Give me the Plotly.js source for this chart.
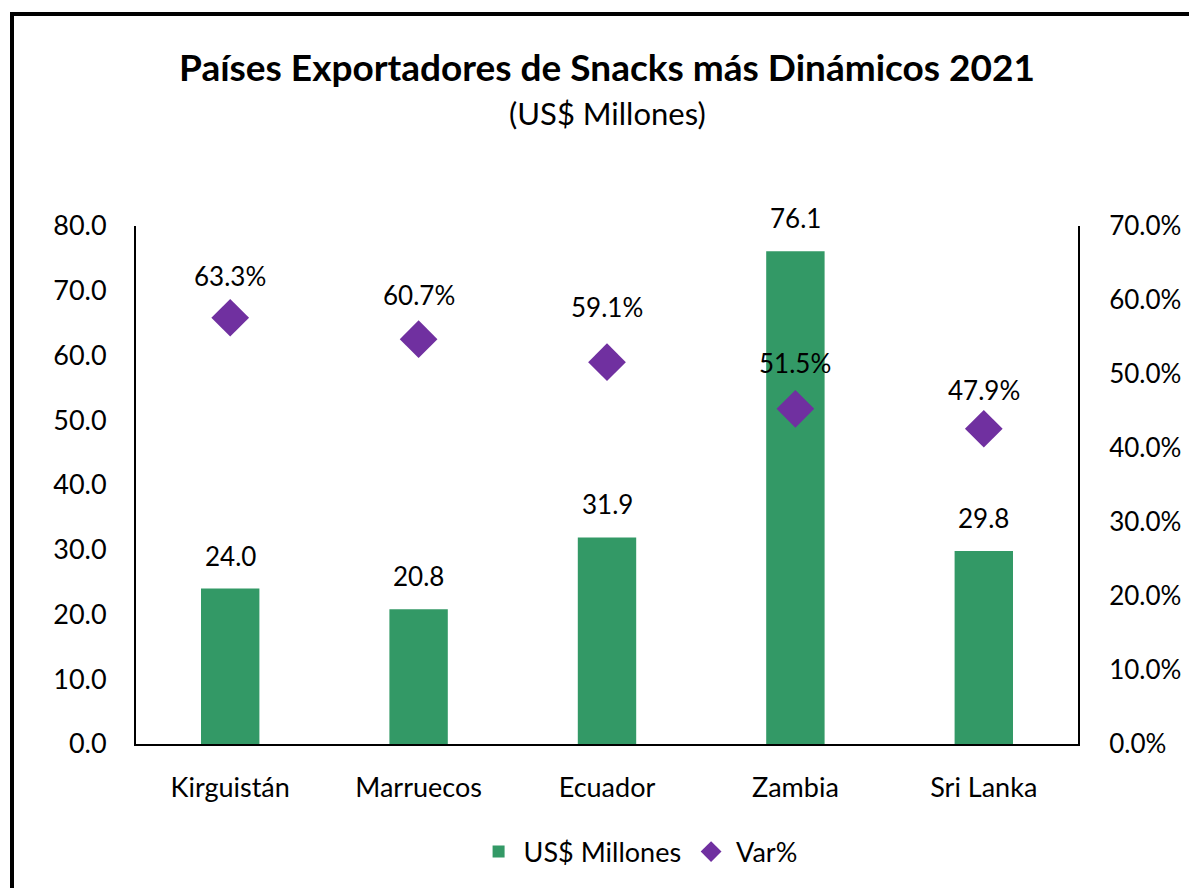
<!DOCTYPE html>
<html>
<head>
<meta charset="utf-8">
<script src="https://cdn.plot.ly/plotly-3.0.1.min.js"></script>
<style>html,body{margin:0;padding:0;background:#fff;}#chart{width:1189px;height:888px;}</style>
</head>
<body>
<div id="chart"></div>
<script>
// Data
const categories = ['Kirguistán', 'Marruecos', 'Ecuador', 'Zambia', 'Sri Lanka'];
const millones = [24.0, 20.8, 31.9, 76.1, 29.8];          // US$ Millones (left axis)
const varPct = [0.633, 0.607, 0.591, 0.515, 0.479];       // Var% labels (right axis)
const varMarkerPos = [0.576, 0.547, 0.516, 0.453, 0.426]; // diamond positions as drawn (right axis)
const leftTicks = [0, 10, 20, 30, 40, 50, 60, 70, 80];
const rightTicks = [0, 0.1, 0.2, 0.3, 0.4, 0.5, 0.6, 0.7];

const FONT = 'Lato, "Open Sans", sans-serif';
const GREEN = '#339966';
const PURPLE = '#7030A0';

const traces = [
  {
    type: 'bar', name: 'US$ Millones', x: categories, y: millones,
    marker: {color: GREEN}, width: 0.31, yaxis: 'y', hoverinfo: 'x+y'
  },
  {
    type: 'scatter', mode: 'markers', name: 'Var%', x: categories, y: varMarkerPos,
    yaxis: 'y2', marker: {symbol: 'diamond', size: 29, color: PURPLE}
  }
];

const annotations = [];
categories.forEach((c, i) => {
  annotations.push({
    x: c, y: millones[i], xref: 'x', yref: 'y', text: millones[i].toFixed(1),
    showarrow: false, yanchor: 'middle', yshift: 33, font: {family: FONT, size: 26, color: '#000'}
  });
  annotations.push({
    x: c, y: varPct[i], xref: 'x', yref: 'y2', text: (varPct[i] * 100).toFixed(1) + '%',
    showarrow: false, yanchor: 'middle', font: {family: FONT, size: 26, color: '#000'}
  });
});
annotations.push({
  xref: 'paper', yref: 'paper', x: 0.5, y: 1 + (226 - 113) / 518, yanchor: 'middle',
  text: '(US$ Millones)', showarrow: false, font: {family: FONT, size: 31, color: '#000'}
});

const layout = {
  width: 1189, height: 888,
  margin: {l: 136, r: 111, t: 226, b: 144},
  paper_bgcolor: '#fff', plot_bgcolor: '#fff',
  font: {family: FONT, color: '#000'},
  title: {
    text: '<b>Países Exportadores de Snacks más Dinámicos 2021</b>',
    xref: 'paper', x: 0.5, xanchor: 'center', y: 1 - 68 / 888, yanchor: 'middle',
    font: {family: FONT, size: 37, color: '#000'}
  },
  xaxis: {
    type: 'category', showgrid: false, zeroline: false, showline: true, linecolor: '#000', linewidth: 2,
    ticks: '', tickfont: {family: FONT, size: 27, color: '#000'}, ticklabelstandoff: 19
  },
  yaxis: {
    range: [0, 80], tickvals: leftTicks, ticktext: leftTicks.map(v => v.toFixed(1)),
    showgrid: false, zeroline: false, showline: true, linecolor: '#000', linewidth: 2,
    ticks: '', tickfont: {family: FONT, size: 27, color: '#000'}, ticklabelstandoff: 22
  },
  yaxis2: {
    range: [0, 0.7], overlaying: 'y', side: 'right', tickvals: rightTicks,
    ticktext: rightTicks.map(v => (v * 100).toFixed(1) + '%'),
    showgrid: false, zeroline: false, showline: true, linecolor: '#000', linewidth: 2,
    ticks: '', tickfont: {family: FONT, size: 26, color: '#000'}, ticklabelstandoff: 24
  },
  showlegend: true,
  legend: {
    orientation: 'h', x: 0.533, xanchor: 'center', y: -108 / 518, yanchor: 'middle',
    font: {family: FONT, size: 27, color: '#000'}, itemsizing: 'trace', itemwidth: 40,
    bgcolor: 'rgba(0,0,0,0)'
  },
  annotations: annotations,
  shapes: [{
    type: 'rect', xref: 'paper', yref: 'paper',
    x0: (12 - 136) / 942, x1: (1220 - 136) / 942,
    y0: (744 - 920) / 518, y1: 1 + (226 - 14) / 518,
    line: {color: '#000', width: 4}, fillcolor: 'rgba(0,0,0,0)', layer: 'below'
  }],
  bargap: 0.69
};

Plotly.newPlot('chart', traces, layout, {displayModeBar: false, responsive: false});
</script>
</body>
</html>
